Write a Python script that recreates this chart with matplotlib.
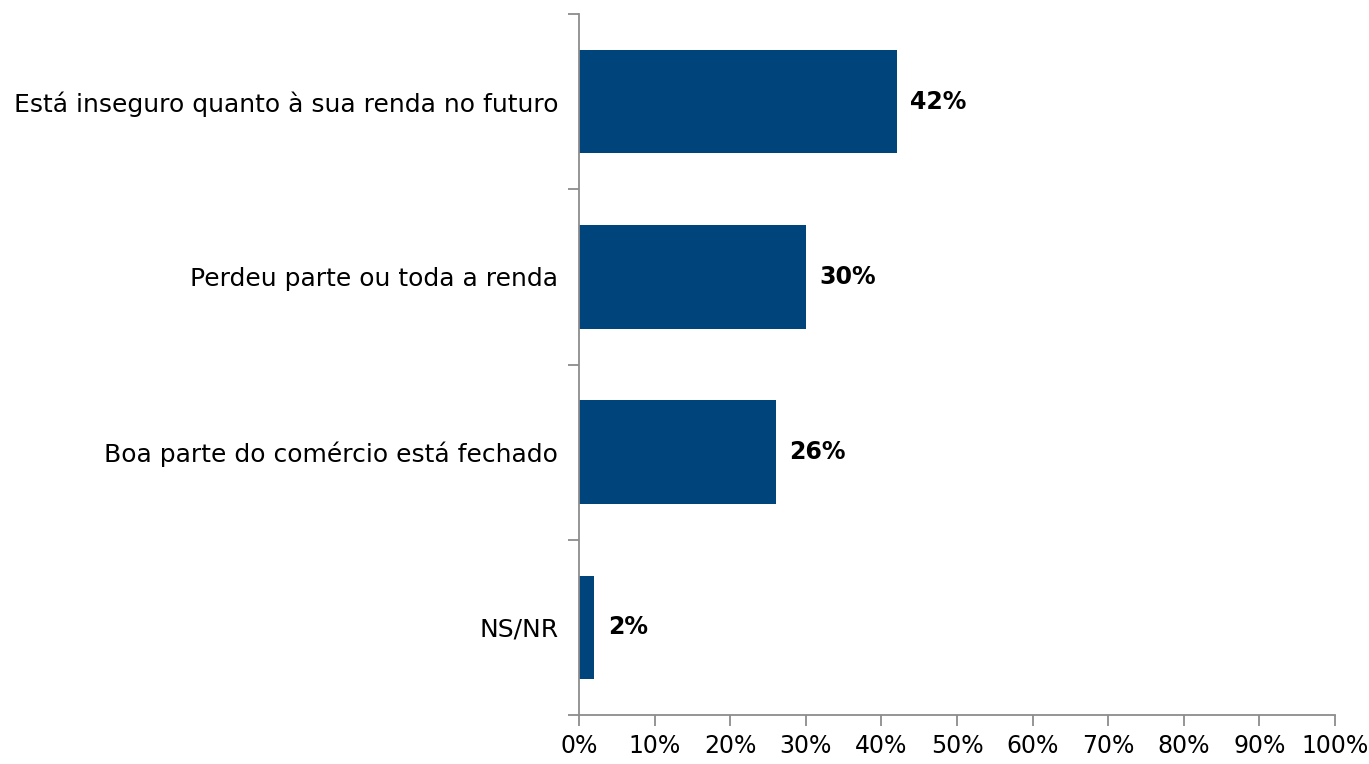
import matplotlib
matplotlib.use('Agg')
import matplotlib.pyplot as plt
import numpy as np

plt.rcParams['font.family'] = 'DejaVu Sans'

categorias = ['Está inseguro quanto à sua renda no futuro',
              'Perdeu parte ou toda a renda',
              'Boa parte do comércio está fechado',
              'NS/NR']
valores = [42, 30, 26, 2]
xticks = list(range(0, 101, 10))

cor = '#00447C'
cinza = '#8C8C8C'

fig = plt.figure(figsize=(13.69, 7.64), dpi=100)
ax = fig.add_axes([579 / 1369, 1 - 715 / 764, (1335 - 579) / 1369, (715 - 14) / 764])

y = np.arange(len(categorias))
ax.barh(y, valores, height=0.59, color=cor)

for yi, v in zip(y, valores):
    ax.text(v + 1.8, yi, f'{v}%', va='center', ha='left',
            fontsize=17, fontweight='bold', color='black')

ax.set_xlim(0, 100)
ax.set_ylim(len(categorias) - 0.5, -0.5)
ax.set_xticks(xticks)
ax.set_xticklabels([f'{t}%' for t in xticks], fontsize=17)
ax.set_yticks(y)
ax.set_yticklabels(categorias, fontsize=18)
ax.set_yticks(np.arange(len(categorias) + 1) - 0.5, minor=True)

ax.tick_params(axis='y', which='major', length=0, pad=15)
ax.tick_params(axis='y', which='minor', length=8, color=cinza, width=1.3)
ax.tick_params(axis='x', length=8, color=cinza, width=1.3, pad=6)

for s in ['top', 'right']:
    ax.spines[s].set_visible(False)
for s in ['left', 'bottom']:
    ax.spines[s].set_color(cinza)
    ax.spines[s].set_linewidth(1.3)

fig.savefig('out.png', dpi=100)
